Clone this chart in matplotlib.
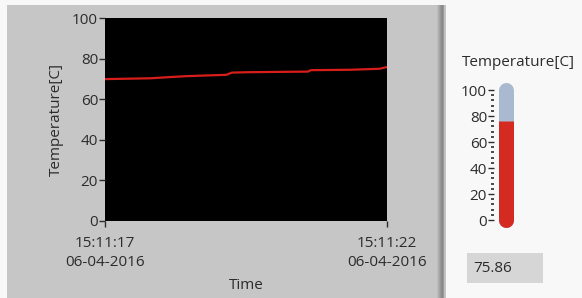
import matplotlib
matplotlib.use("Agg")
import matplotlib.pyplot as plt
from matplotlib.patches import Rectangle
from matplotlib.ticker import MultipleLocator

plt.rcParams['font.family'] = ['Open Sans', 'DejaVu Sans']

# ---- data ----
time_s = [0.0, 0.8, 1.4, 1.7, 2.15, 2.25, 2.55, 3.6, 3.65, 4.35, 4.87, 5.0]
temperature = [69.9, 70.3, 71.3, 71.6, 72.0, 73.1, 73.3, 73.6, 74.3, 74.5, 75.0, 75.86]
x_ticks = [0, 5]
x_tick_labels = ["15:11:17\n06-04-2016", "15:11:22\n06-04-2016"]
y_ticks = [0, 20, 40, 60, 80, 100]
current_value = 75.86
y_label = "Temperature[C]"
x_label = "Time"
gauge_title = "Temperature[C]"

W, H = 582, 298
fig = plt.figure(figsize=(W / 100, H / 100), dpi=100, facecolor='#f8f8f8')

def fx(px):
    return px / W

def fy(py):
    return 1 - py / H

txt = '#2c2c2c'
fs = 11

# gray panel
fig.patches.append(Rectangle((fx(7), 0), fx(446) - fx(7), fy(5), transform=fig.transFigure,
                             facecolor='#c6c6c6', edgecolor='none', zorder=-2))
for i, c in enumerate(['#bcbcbc', '#b0b0b0', '#a4a4a4', '#989898', '#8e8e8e', '#888888', '#9a9a9a', '#c0c0c0']):
    fig.patches.append(Rectangle((fx(437 + i), 0), fx(1.05), fy(5), transform=fig.transFigure,
                                 facecolor=c, edgecolor='none', zorder=-1))

# main chart
ax = fig.add_axes([fx(105), fy(221), fx(387) - fx(105), (221 - 18) / H])
ax.set_facecolor('black')
ax.plot(time_s, temperature, color='#d81e1a', lw=1.6)
ax.set_xlim(0, 5)
ax.set_ylim(0, 100)
ax.set_yticks(y_ticks)
ax.set_xticks(x_ticks)
ax.set_xticklabels(x_tick_labels, linespacing=1.35)
ax.tick_params(axis='both', colors=txt, labelsize=fs, length=4, width=1)
ax.tick_params(axis='x', pad=7)
ax.tick_params(axis='y', pad=1)
for s in ax.spines.values():
    s.set_visible(False)
ax.set_ylabel(y_label, color=txt, fontsize=fs, labelpad=6)
ax.set_xlabel(x_label, color=txt, fontsize=fs, labelpad=6)

# thermometer gauge
ga = fig.add_axes([fx(494), fy(220), fx(22), 130 / H])
ga.set_facecolor('none')
ga.set_xlim(0, 1)
ga.set_ylim(0, 100)
xc = (505.5 - 494) / 22
tube_w = 15 * 72 / 100
ga.plot([xc, xc], [0, 100], color='#a9b9cf', lw=tube_w, solid_capstyle='round', clip_on=False)
ga.plot([xc, xc], [0, 8], color='#d42a22', lw=tube_w, solid_capstyle='round', clip_on=False)
ga.plot([xc, xc], [0, current_value], color='#d42a22', lw=tube_w, solid_capstyle='butt', clip_on=False)
ga.set_yticks(y_ticks)
ga.yaxis.set_minor_locator(MultipleLocator(4))
ga.set_xticks([])
ga.tick_params(axis='y', which='major', colors=txt, labelsize=fs, length=4, width=1, pad=1)
ga.tick_params(axis='y', which='minor', colors=txt, length=2, width=1.2)
for s in ga.spines.values():
    s.set_visible(False)
fig.text(fx(518), fy(63), gauge_title, ha='center', va='center', color=txt, fontsize=fs)

# value box
fig.patches.append(Rectangle((fx(467), fy(283)), fx(543) - fx(467), (283 - 253) / H,
                             transform=fig.transFigure, facecolor='#d6d6d6', edgecolor='none', zorder=-1))
fig.text(fx(473), fy(268), f"{current_value:.2f}", ha='left', va='center', color=txt, fontsize=fs)

fig.savefig('out.png', dpi=100, facecolor=fig.get_facecolor())
